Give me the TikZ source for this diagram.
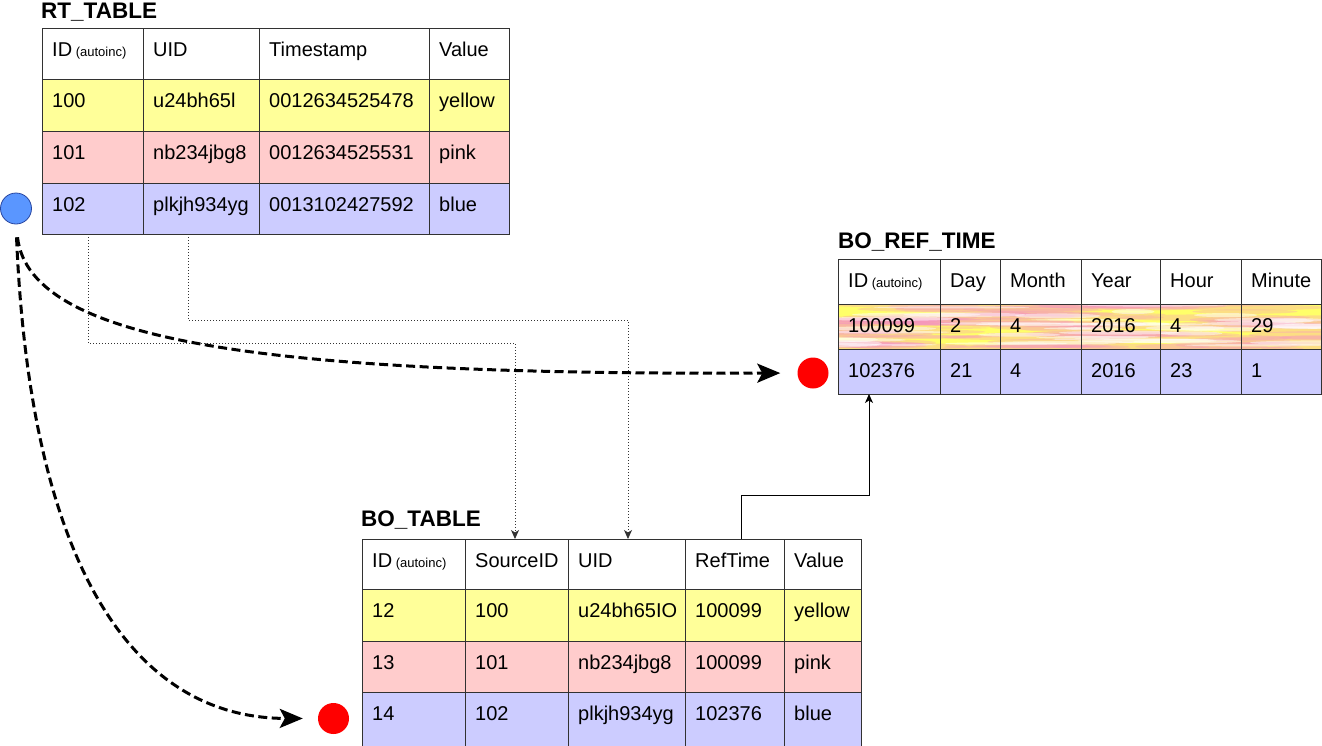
\documentclass[tikz,border=0pt]{standalone}
\usepackage{fontspec}
\setmainfont{Liberation Sans}
\usetikzlibrary{calc,arrows.meta}

\definecolor{rowyellow}{RGB}{255,255,153}
\definecolor{rowpink}{RGB}{255,204,204}
\definecolor{rowblue}{RGB}{204,204,255}
\definecolor{texyellow}{RGB}{255,255,105}
\definecolor{texpink}{RGB}{245,140,200}
\definecolor{srcblue}{RGB}{90,150,255}
\definecolor{srcedge}{RGB}{40,70,160}
\definecolor{gridline}{RGB}{50,50,50}

\tikzset{
  cellbox/.style={draw=gridline, line width=1pt, inner sep=0pt, outer sep=0pt, anchor=north west},
  celltext/.style={anchor=base west, inner sep=0pt, font=\fontsize{20}{24}\selectfont},
  tabtitle/.style={anchor=base west, inner sep=0pt, font=\bfseries\fontsize{22.5}{27}\selectfont},
  dotlink/.style={line width=0.9pt, draw=black!80, dash pattern=on 1pt off 2pt,
    -{Stealth[length=9pt,width=8pt,inset=2.5pt]}},
  reflink/.style={line width=1pt, draw=black, -{Stealth[length=9pt,width=8pt,inset=2.5pt]}},
  flowlink/.style={line width=3pt, draw=black, dash pattern=on 9pt off 4.5pt,
    -{Stealth[length=23pt,width=19pt,inset=5pt]}},
  marker/.style={circle, inner sep=0pt, minimum size=31pt},
}

% one table row: prefix, row index, top y, height, fill, x/width/text list
\newcommand\tabrow[6]{%
  \foreach \cx/\cw/\ct [count=\cc] in {#6}{%
    \node[cellbox, fill=#5, minimum width=\cw pt, minimum height=#4pt] (#1-#2-\cc) at (\cx,#3) {};
    \node[celltext] (#1-#2-\cc-t) at ($(#1-#2-\cc.north west)+(10,28)$) {\ct};
  }%
}
\newcommand\autoinc{ID{\fontsize{13}{15}\selectfont\ (autoinc)}}

\begin{document}
\begin{tikzpicture}[x=1pt, y=-1pt]
\useasboundingbox (0,0) rectangle (1322,745);

% ---------------- RT_TABLE ----------------
\node[tabtitle] (rt-title) at (41,18) {RT\_TABLE};
\tabrow{rt}{0}{28}{51}{white}{42/101/\autoinc, 143/116/UID, 259/170/Timestamp, 429/80/Value}
\tabrow{rt}{1}{79}{52}{rowyellow}{42/101/100, 143/116/u24bh65l, 259/170/0012634525478, 429/80/yellow}
\tabrow{rt}{2}{131}{52}{rowpink}{42/101/101, 143/116/nb234jbg8, 259/170/0012634525531, 429/80/pink}
\tabrow{rt}{3}{183}{51}{rowblue}{42/101/102, 143/116/plkjh934yg, 259/170/0013102427592, 429/80/blue}

% ---------------- BO_REF_TIME ----------------
\node[tabtitle] (brt-title) at (838,248) {BO\_REF\_TIME};
% streaky yellow/pink background of the first data row
\begin{scope}
  \clip (838,304) rectangle (1321,349);
  \fill[texyellow] (838,304) rectangle (1321,349);
  \pgfmathsetseed{23}
  \foreach \i in {1,...,85}{
    \pgfmathsetmacro\px{820+rnd*520}
    \pgfmathsetmacro\py{304+rnd*45}
    \pgfmathsetmacro\rx{40+rnd*80}
    \pgfmathsetmacro\ry{1.5+rnd*2.5}
    \fill[texpink, opacity=0.28] (\px,\py) ellipse [x radius=\rx pt, y radius=\ry pt];
  }
  \foreach \i in {1,...,45}{
    \pgfmathsetmacro\px{820+rnd*520}
    \pgfmathsetmacro\py{304+rnd*45}
    \pgfmathsetmacro\rx{20+rnd*60}
    \pgfmathsetmacro\ry{0.8+rnd*1.8}
    \fill[white, opacity=0.5] (\px,\py) ellipse [x radius=\rx pt, y radius=\ry pt];
  }
\end{scope}
\tabrow{brt}{0}{259}{45}{white}{838/102/\autoinc, 940/60/Day, 1000/81/Month, 1081/79/Year, 1160/81/Hour, 1241/80.5/Minute}
\tabrow{brt}{1}{304}{45}{none}{838/102/100099, 940/60/2, 1000/81/4, 1081/79/2016, 1160/81/4, 1241/80.5/29}
\tabrow{brt}{2}{349}{45}{rowblue}{838/102/102376, 940/60/21, 1000/81/4, 1081/79/2016, 1160/81/23, 1241/80.5/1}

% ---------------- BO_TABLE ----------------
\node[tabtitle] (bo-title) at (361,526) {BO\_TABLE};
\tabrow{bo}{0}{539}{50}{white}{362/103/\autoinc, 465/103/SourceID, 568/117/UID, 685/99/RefTime, 784/77/Value}
\tabrow{bo}{1}{589}{52}{rowyellow}{362/103/12, 465/103/100, 568/117/u24bh65IO, 685/99/100099, 784/77/yellow}
\tabrow{bo}{2}{641}{51}{rowpink}{362/103/13, 465/103/101, 568/117/nb234jbg8, 685/99/100099, 784/77/pink}
\tabrow{bo}{3}{692}{60}{rowblue}{362/103/14, 465/103/102, 568/117/plkjh934yg, 685/99/102376, 784/77/blue}

% ---------------- markers ----------------
\node[marker, fill=srcblue, draw=srcedge, line width=0.8pt] (src) at (16,208.5) {};
\node[marker, fill=red] (ref1) at (813,373) {};
\node[marker, fill=red] (ref2) at (333.5,718.5) {};

% ---------------- key references ----------------
\draw[dotlink] ([xshift=-4.5pt]rt-3-1.south) -- ++(0,109) -| ([xshift=-1.5pt]bo-0-2.north);
\draw[dotlink] ([xshift=-13pt]rt-3-2.south) -- ++(0,86) -| ([xshift=1.5pt]bo-0-3.north);
\draw[reflink] ([xshift=6.5pt]bo-0-4.north) -- ++(0,-44) -| ([xshift=-20pt]brt-2-1.south);

% ---------------- row flow ----------------
\draw[flowlink, shorten <=13pt, shorten >=17pt]
  (src.south) .. controls (30,345) and (280,375) .. (ref1.west);
\draw[flowlink, shorten <=13pt, shorten >=15pt]
  (src.south) .. controls (30,560) and (130,718) .. (ref2.west);
\end{tikzpicture}
\end{document}
